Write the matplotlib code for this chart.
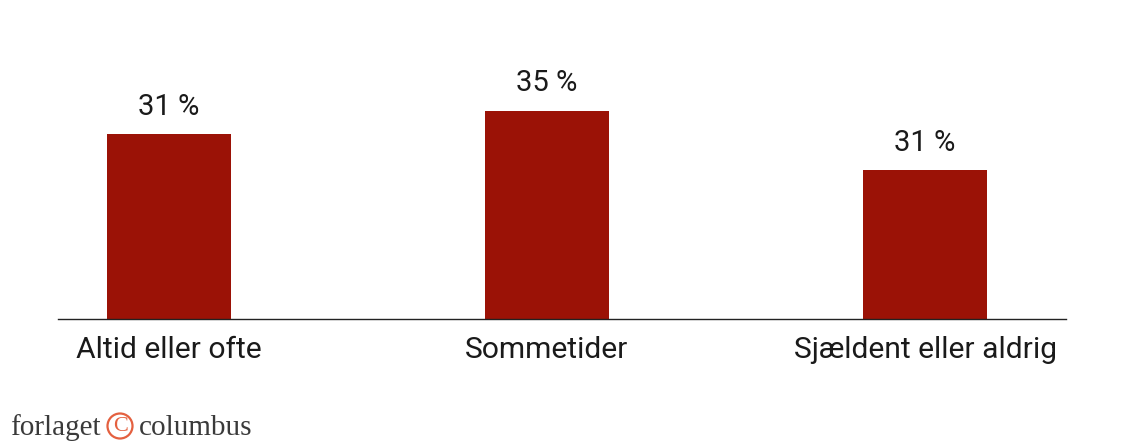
import matplotlib.pyplot as plt
from matplotlib.patches import Ellipse

# data (bar heights as drawn, labels as printed)
categories = ["Altid eller ofte", "Sommetider", "Sjældent eller aldrig"]
values = [31, 35, 25]
value_labels = ["31 %", "35 %", "31 %"]

BAR_COLOR = "#9b1206"
TEXT_COLOR = "#1a1a1a"

plt.rcParams['font.family'] = ['Roboto', 'DejaVu Sans']

fig = plt.figure(figsize=(11.36, 4.44), dpi=100)
ax = fig.add_axes([58 / 1136, 125.5 / 444, 1008 / 1136, 297 / 444])

x = list(range(len(categories)))
bars = ax.bar(x, values, width=0.328, color=BAR_COLOR, zorder=2)

for rect, lab in zip(bars, value_labels):
    ax.annotate(lab, (rect.get_x() + rect.get_width() / 2, rect.get_height()),
                xytext=(0, 14), textcoords='offset points',
                ha='center', va='baseline', fontsize=21, color=TEXT_COLOR)

ax.set_xlim(-0.2937, 2.373)
ax.set_ylim(0, 50)
ax.set_xticks(x)
ax.set_xticklabels(categories, fontsize=21.6, color=TEXT_COLOR)
ax.tick_params(axis='x', length=0, pad=12.5)
ax.set_yticks([])
for side in ['top', 'right', 'left']:
    ax.spines[side].set_visible(False)
ax.spines['bottom'].set_linewidth(1.0)
ax.spines['bottom'].set_color('#222222')

# publisher mark, bottom left
serif = ['Liberation Serif', 'DejaVu Serif']
fig.text(10 / 1136, 9 / 444, "forlaget", family=serif, fontsize=21,
         color='#3a3a3a', ha='left', va='baseline')
fig.text(139 / 1136, 9 / 444, "columbus", family=serif, fontsize=21,
         color='#3a3a3a', ha='left', va='baseline')
mark_color = '#e4603f'
fig.patches.append(Ellipse((120 / 1136, 18 / 444), 25 / 1136, 25 / 444,
                           transform=fig.transFigure, fill=False,
                           edgecolor=mark_color, linewidth=1.6))
fig.text(120.5 / 1136, 18 / 444, "C", family=serif, fontsize=16,
         color=mark_color, ha='center', va='center')

fig.savefig("out.png", dpi=100)
